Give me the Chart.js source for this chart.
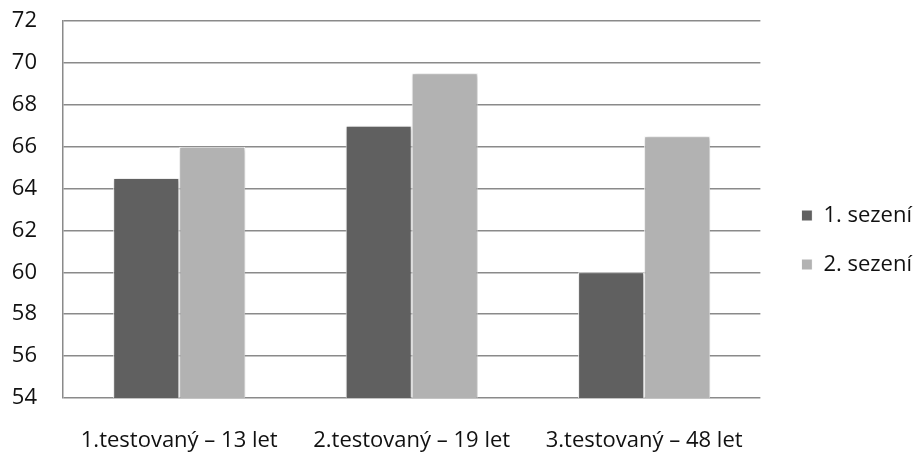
<!DOCTYPE html>
<html>
<head>
<meta charset="utf-8">
<script src="https://cdn.jsdelivr.net/npm/chart.js@4"></script>
<style>
  html, body { margin: 0; padding: 0; background: #fff; }
  #wrap { width: 916px; height: 453px; }
</style>
</head>
<body>
<div id="wrap"><canvas id="c"></canvas></div>
<script>
const categories = ['1.testovaný – 13 let', '2.testovaný – 19 let', '3.testovaný – 48 let'];
const session1 = [64.5, 67, 60];
const session2 = [66, 69.5, 66.5];
const seriesNames = ['1. sezení', '2. sezení'];

const FONT = '"Open Sans", Lato, sans-serif';
const TEXT = '#111111';

// soft drop shadow behind the bars
const barShadow = {
  id: 'barShadow',
  beforeDatasetsDraw(chart) {
    const ctx = chart.ctx;
    ctx.save();
    ctx.shadowColor = 'rgba(0,0,0,0.28)';
    ctx.shadowBlur = 4;
    ctx.shadowOffsetX = 1;
    ctx.shadowOffsetY = 1;
  },
  afterDatasetsDraw(chart) {
    chart.ctx.restore();
  }
};

// nudge the legend block a little right and down from where the layout puts it
const legendNudge = {
  id: 'legendNudge',
  afterLayout(chart) {
    const lg = chart.legend;
    if (!lg) return;
    const dx = 14, dy = 3;
    lg.left += dx; lg.right += dx;
    lg.top += dy; lg.bottom += dy;
  }
};

new Chart(document.getElementById('c'), {
  type: 'bar',
  data: {
    labels: categories,
    datasets: [
      { label: seriesNames[0], data: session1, backgroundColor: '#606060', borderColor: '#ffffff', borderWidth: 1 },
      { label: seriesNames[1], data: session2, backgroundColor: '#b2b2b2', borderColor: '#ffffff', borderWidth: 1 }
    ]
  },
  options: {
    responsive: true,
    maintainAspectRatio: false,
    animation: false,
    layout: { autoPadding: false, padding: { left: 12, right: 8, top: 21, bottom: 0 } },
    datasets: { bar: { barPercentage: 1, categoryPercentage: 0.568 } },
    plugins: {
      legend: {
        position: 'right',
        labels: {
          font: { family: FONT, size: 22 },
          color: TEXT,
          boxWidth: 11,
          boxHeight: 11,
          padding: 27
        }
      },
      tooltip: { enabled: false }
    },
    scales: {
      x: {
        grid: { display: false },
        border: { display: false },
        ticks: { font: { family: FONT, size: 22 }, color: TEXT, padding: 22, maxRotation: 0, autoSkip: false },
        afterFit(scale) {
          scale.height = 55;
          scale.paddingLeft = 0;
          scale.paddingRight = 0;
        }
      },
      y: {
        min: 54,
        max: 72,
        ticks: { stepSize: 2, font: { family: FONT, size: 22 }, color: TEXT, padding: 26 },
        grid: { color: '#8a8a8a', lineWidth: 1.5, drawTicks: false },
        border: { display: true, color: '#8a8a8a', width: 1.5 },
        afterFit(scale) {
          scale.width = 51;
          scale.paddingTop = 0;
          scale.paddingBottom = 0;
        }
      }
    }
  },
  plugins: [barShadow, legendNudge]
});
</script>
</body>
</html>
